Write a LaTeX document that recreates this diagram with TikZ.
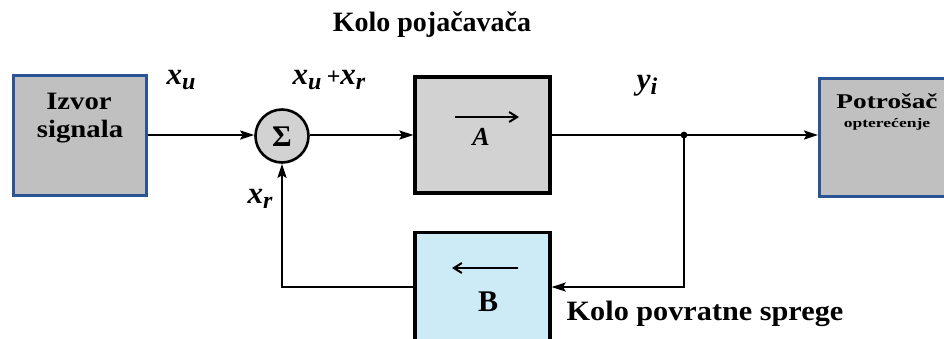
\documentclass[tikz,border=0pt]{standalone}
\usepackage{fontspec}
\setmainfont{Liberation Serif}
\usetikzlibrary{arrows.meta}
\definecolor{frameblue}{HTML}{2B5494}
\definecolor{srcgray}{HTML}{C0C0C0}
\definecolor{ampgray}{HTML}{D2D2D2}
\definecolor{fbblue}{HTML}{CDEAF7}
\newcommand{\lowsub}[1]{\raisebox{-0.35ex}{\fontsize{24}{26}\selectfont #1}}
\newcommand{\hwide}[2]{\scalebox{#1}[1]{#2}}
\begin{document}
\begin{tikzpicture}[x=1pt,y=-1pt,
  ln/.style={line width=2.1pt},
  arr/.style={ln,-{Stealth[length=14pt,width=9pt,inset=2.5pt]}},
  inarr/.style={line width=2pt,-{Straight Barb[length=8pt,width=10pt]}},
  blk/.style={draw=black,line width=3.2pt,minimum width=135pt,minimum height=116pt,inner sep=0pt},
  src/.style={draw=frameblue,fill=srcgray,line width=3pt,inner sep=0pt},
  lbl/.style={font=\fontsize{31}{33}\selectfont\bfseries\itshape,inner sep=0pt},
  ttl/.style={font=\fontsize{28}{30}\selectfont\bfseries,inner sep=0pt}]
\useasboundingbox (0,0) rectangle (944,338);
% title
\node[ttl] (title) at (432,25) {Kolo pojačavača};
% source
\node[src,minimum width=133pt,minimum height=120pt] (izvor) at (80,135) {};
\node[font=\fontsize{25}{27}\selectfont\bfseries,inner sep=0pt] (izvort) at (79,101) {\hwide{1.15}{Izvor}};
\node[font=\fontsize{25}{27}\selectfont\bfseries,inner sep=0pt] (signt) at (80,132) {\hwide{1.15}{signala}};
% summer
\node[circle,draw=black,line width=2.6pt,fill=ampgray,minimum size=53pt,inner sep=0pt] (sum) at (282,136) {};
\node[font=\fontsize{30}{32}\selectfont\bfseries,inner sep=0pt] (sigma) at (282,137) {Σ};
% amplifier
\node[blk,fill=ampgray] (A) at (482.5,135) {};
\coordinate (aS) at (455,117);
\coordinate (aE) at (519,117);
\draw[inarr] (aS) -- (aE);
\node[font=\fontsize{26}{28}\selectfont\bfseries\itshape,inner sep=0pt] (Alab) at (481,137) {A};
% load
\node[src,minimum width=140pt,minimum height=118pt,anchor=north west] (pot) at (818,77) {};
\node[font=\fontsize{21}{23}\selectfont\bfseries,inner sep=0pt] (pott) at (887,101) {\hwide{1.3}{Potrošač}};
\node[font=\fontsize{13}{15}\selectfont\bfseries,inner sep=0pt] (optt) at (887,124) {\hwide{1.35}{opterećenje}};
% feedback block
\node[blk,fill=fbblue,minimum height=130pt,anchor=north] (B) at (482.5,231) {};
\coordinate (bS) at (518,268);
\coordinate (bE) at (452,268);
\draw[inarr] (bS) -- (bE);
\node[font=\fontsize{30}{32}\selectfont\bfseries,inner sep=0pt] (Blab) at (488,302) {B};
% junction
\coordinate (j) at (684,135);
\coordinate (fb) at (684,287);
% connectors
\draw[arr] (izvor.east |- 0,135) -- (sum.west |- 0,135);
\draw[arr] (sum.east |- 0,135) -- (A.west);
\draw[ln] (A.east) -- (j);
\draw[arr] (j) -- (pot.west |- j);
\fill (j) circle (3.4pt);
\draw[arr] (j) -- (fb) -- (B.east |- fb);
\draw[arr] (B.west |- fb) -| (sum.south);
% signal labels
\node[lbl] (xu) at (181,80) {x\lowsub{u}};
\node[lbl] (xuxr) at (329,80) {x\lowsub{u}\,\fontsize{24}{26}\selectfont\upshape +\itshape\fontsize{31}{33}\selectfont x\lowsub{r}};
\node[lbl] (yi) at (647,86) {y\lowsub{i}};
\node[lbl] (xr) at (260,199) {x\lowsub{r}};
\node[ttl] (kps) at (705,314) {\hwide{1.08}{Kolo povratne sprege}};
\end{tikzpicture}
\end{document}
